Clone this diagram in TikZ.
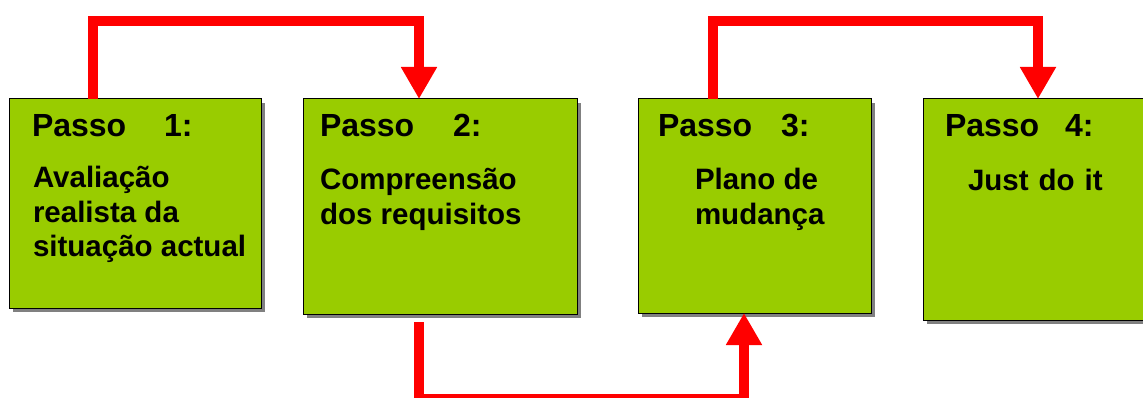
\documentclass[tikz,border=0pt]{standalone}
\usepackage{fontspec}
\setmainfont{Liberation Sans}
\usetikzlibrary{arrows.meta,shadows}
\definecolor{boxgreen}{HTML}{99CC00}
\definecolor{shadowgray}{HTML}{808080}
\definecolor{connred}{HTML}{FF0000}
\tikzset{
  stepbox/.style={draw=black, line width=1pt, fill=boxgreen, anchor=north west,
    inner sep=0pt, outer sep=0pt,
    drop shadow={shadow xshift=4pt, shadow yshift=-4pt, fill=shadowgray, opacity=1, draw=none}},
  titletext/.style={font=\bfseries\fontsize{32}{34}\selectfont, anchor=base west, inner sep=0pt, outer sep=0pt},
  bodytext/.style={font=\bfseries\fontsize{29.5}{34.5}\selectfont, anchor=base west, inner sep=0pt, outer sep=0pt},
  conn/.style={draw=connred, line width=10pt, line join=miter,
    -{Triangle[width=34pt,length=32pt]}, connred}
}
\begin{document}
\begin{tikzpicture}[x=1pt,y=-1pt]
\useasboundingbox (0,0) rectangle (1143,398);
% boxes
\node[stepbox, minimum width=252pt, minimum height=209pt] (b1) at (9,99) {};
\node[stepbox, minimum width=274pt, minimum height=215pt] (b2) at (303,99) {};
\node[stepbox, minimum width=233pt, minimum height=214pt] (b3) at (638,99) {};
\node[stepbox, minimum width=260pt, minimum height=221pt] (b4) at (923,99) {};
% titles
\node[titletext] (p1) at (32,137) {Passo};
\node[titletext] (n1) at (164,137) {1:};
\node[titletext] (p2) at (320,137) {Passo};
\node[titletext] (n2) at (453,137) {2:};
\node[titletext] (p3) at (658,137) {Passo};
\node[titletext] (n3) at (781,137) {3:};
\node[titletext] (p4) at (945,137) {Passo};
\node[titletext] (n4) at (1065,137) {4:};
% bodies
\node[bodytext] (t1) at (33,188) {\parbox[t]{240pt}{\raggedright Avaliação\\realista da\\situação actual}};
\node[bodytext] (t2) at (320,190) {\parbox[t]{250pt}{\raggedright Compreensão\\dos requisitos}};
\node[bodytext] (t3) at (695,190) {\parbox[t]{170pt}{\raggedright Plano de\\mudança}};
\node[bodytext] (t4) at (968,191) {Just\hspace{10pt}do\hspace{10pt}it};
% connectors
\coordinate (s2) at ([xshift=116pt,yshift=-8pt]b2.south west);
\draw[conn] ([xshift=84pt]b1.north west) -- ++(0,-77.5) -| ([xshift=116pt]b2.north west);
\draw[conn] (s2) -- ++(0,77) -| ([xshift=106pt]b3.south west);
\draw[conn] ([xshift=75pt]b3.north west) -- ++(0,-77.5) -| ([xshift=115pt]b4.north west);
\end{tikzpicture}
\end{document}
